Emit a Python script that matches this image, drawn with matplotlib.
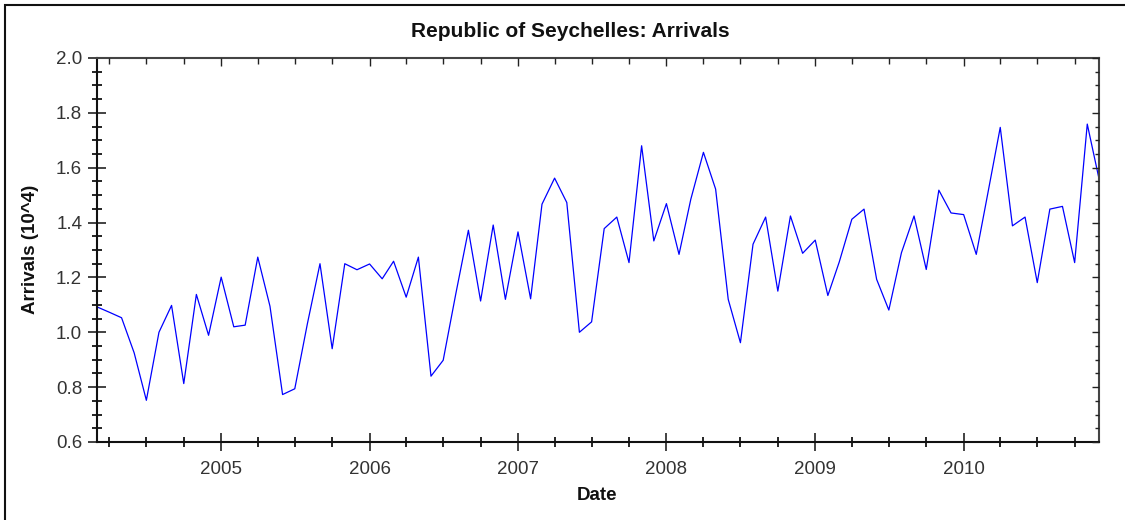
import matplotlib
matplotlib.use("Agg")
import matplotlib.pyplot as plt
import matplotlib.dates as mdates
from matplotlib.ticker import MultipleLocator
from matplotlib.patches import Rectangle
import pandas as pd

# monthly arrivals (10^4), March 2004 .. December 2010
start_month = "2004-03-01"
arrivals = [
    1.093, 1.073, 1.053, 0.925, 0.752, 1.000, 1.098, 0.813, 1.138, 0.989,
    1.201, 1.020, 1.026, 1.274, 1.095, 0.773, 0.794, 1.031, 1.250, 0.940, 1.250, 1.228,
    1.249, 1.195, 1.259, 1.128, 1.274, 0.840, 0.898, 1.140, 1.372, 1.114, 1.391, 1.120,
    1.366, 1.122, 1.467, 1.562, 1.473, 1.000, 1.038, 1.378, 1.420, 1.254, 1.680, 1.333,
    1.469, 1.284, 1.485, 1.656, 1.522, 1.120, 0.962, 1.321, 1.420, 1.150, 1.424, 1.288,
    1.336, 1.134, 1.256, 1.412, 1.449, 1.193, 1.081, 1.290, 1.424, 1.229, 1.518, 1.435,
    1.429, 1.284, 1.503, 1.747, 1.388, 1.420, 1.181, 1.449, 1.459, 1.254, 1.759, 1.552,
]
dates = pd.date_range(start_month, periods=len(arrivals), freq="MS")

plt.rcParams["font.family"] = ["Liberation Sans", "DejaVu Sans"]

fig = plt.figure(figsize=(11.25, 5.2), dpi=100)
ax = fig.add_axes([0.086, 0.15, 0.8913, 0.7385])

ax.plot(dates, arrivals, color="#0000ff", linewidth=0.9)

ax.set_xlim(dates[0], dates[-1])
ax.set_ylim(0.6, 2.0)
ax.yaxis.set_major_locator(MultipleLocator(0.2))
ax.yaxis.set_minor_locator(MultipleLocator(0.05))
ax.yaxis.set_major_formatter(matplotlib.ticker.FormatStrFormatter("%.1f"))
ax.xaxis.set_major_locator(mdates.YearLocator())
ax.xaxis.set_minor_locator(mdates.MonthLocator(bymonth=[1, 4, 7, 10]))
ax.xaxis.set_major_formatter(mdates.DateFormatter("%Y"))

ax.tick_params(which="major", direction="inout", length=13, width=1.2,
               labelsize=13.5, colors="#222222", pad=4)
ax.tick_params(which="minor", direction="inout", length=7, width=1.2)
ax.tick_params(axis="y", labelcolor="#333333")
ax.tick_params(axis="x", labelcolor="#333333", pad=7)

for s in ax.spines.values():
    s.set_linewidth(1.5)
    s.set_color("#444444")
ax.spines["left"].set_color("#111111")
ax.spines["bottom"].set_color("#111111")

# inward ticks on top and right
top = ax.twiny()
top.set_xlim(ax.get_xlim())
top.xaxis.set_major_locator(mdates.YearLocator())
top.xaxis.set_minor_locator(mdates.MonthLocator(bymonth=[1, 4, 7, 10]))
top.tick_params(which="major", direction="in", length=6, width=1.0, labeltop=False, color="#222222")
top.tick_params(which="minor", direction="in", length=4, width=1.0, color="#222222")

right = ax.twinx()
right.set_ylim(ax.get_ylim())
right.yaxis.set_major_locator(MultipleLocator(0.2))
right.yaxis.set_minor_locator(MultipleLocator(0.05))
right.tick_params(which="major", direction="in", length=5, width=1.0, labelright=False, color="#222222")
right.tick_params(which="minor", direction="in", length=3, width=1.0, color="#222222")
for a in (top, right):
    for s in a.spines.values():
        s.set_visible(False)

fig.text(0.507, 0.94, "Republic of Seychelles: Arrivals", ha="center", va="center",
         fontsize=15, fontweight="bold", color="#111111")
fig.text(0.531, 0.048, "Date", ha="center", va="center",
         fontsize=13.5, fontweight="bold", color="#111111")
fig.text(0.027, 0.52, "Arrivals (10^4)", ha="center", va="center", rotation=90,
         fontsize=13.5, fontweight="bold", color="#111111")

# outer frame of the picture
fig.add_artist(Rectangle((5 / 1125, -0.05), 1.2, (515 / 520) + 0.05,
                         transform=fig.transFigure, fill=False,
                         edgecolor="#111111", linewidth=1.5))

fig.savefig("out.png", dpi=100)
